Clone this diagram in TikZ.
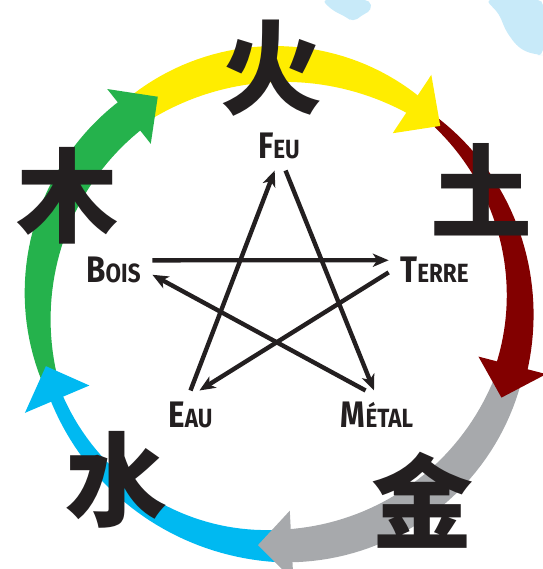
\documentclass[tikz,border=0pt]{standalone}
\usepackage{fontspec}
\usetikzlibrary{arrows.meta}
\newfontfamily\elemfont[FakeStretch=0.85]{Fira Sans}
\newfontfamily\cjk{Noto Sans CJK SC}
\definecolor{feuyellow}{HTML}{FFED00}
\definecolor{terrered}{HTML}{820000}
\definecolor{metalgray}{HTML}{A7A9AC}
\definecolor{eaublue}{HTML}{00B9F1}
\definecolor{boisgreen}{HTML}{25B24C}
\definecolor{inkblack}{HTML}{231F20}
\definecolor{skyblue}{HTML}{C8EAF9}

% radius of the cycle, in px
\newcommand{\rc}{241}
% tapered band: colour, start angle, end angle, widths at start/middle/end
\newcommand{\ringbody}[6]{%
  \fill[#1] plot[domain=0:1, samples=40, variable=\s]
    ({#2+(#3-(#2))*\s}:{\rc+0.5*(#4*(1-\s)*(1-2*\s)+4*#5*\s*(1-\s)+#6*\s*(2*\s-1))})
    -- plot[domain=1:0, samples=40, variable=\s]
    ({#2+(#3-(#2))*\s}:{\rc-0.5*(#4*(1-\s)*(1-2*\s)+4*#5*\s*(1-\s)+#6*\s*(2*\s-1))})
    -- cycle;}
% arrow head: colour, base angle, tip angle
\newcommand{\ringhead}[3]{%
  \fill[#1] (#2:{\rc+35}) -- (#3:\rc) -- (#2:{\rc-35}) -- cycle;}
\newcommand{\elemname}[2]{{\fontsize{21}{21}\selectfont #1}{\fontsize{15}{15}\selectfont #2}}

\begin{document}
\begin{tikzpicture}[x=0.02cm, y=0.02cm,
  elem/.style={font=\elemfont\bfseries, text=inkblack, inner sep=6.5pt, text height=14.5pt, text depth=0pt},
  hanzi/.style={font=\cjk\bfseries\fontsize{58}{58}\selectfont, text=inkblack, inner sep=0pt},
  flow/.style={draw=inkblack, line width=2.5pt, -{Stealth[length=9pt, width=7.5pt, inset=2.5pt]}},
]
  \useasboundingbox (-279,-264) rectangle (264,305);

  % water stains at the top
  \fill[skyblue, rounded corners=3pt] (43,305) -- (53,295) -- (67,288) -- (74,283) -- (85,291) -- (93,295) -- (91,305) -- cycle;
  \fill[skyblue, rounded corners=3pt] (207,305) -- (220,291) -- (227,274) -- (237,260) -- (247,253) -- (261,250) -- (264,250) -- (264,305) -- cycle;

  % generating cycle
  \ringbody{feuyellow}{126.5}{55.5}{30}{36}{20}
  \ringbody{terrered}{54.5}{-15.5}{7}{20}{32}
  \ringbody{metalgray}{-16.5}{-88}{26}{36}{33}
  \ringbody{eaublue}{-89}{-158}{33}{20}{13}
  \ringbody{boisgreen}{-159}{-232.5}{14}{32}{36}
  \ringhead{feuyellow}{56.5}{48}
  \ringhead{terrered}{-14.5}{-22.6}
  \ringhead{metalgray}{-87}{-95}
  \ringhead{eaublue}{-157}{-165.3}
  \ringhead{boisgreen}{-231.5}{-239.8}

  \node[hanzi] (huo)  at (-8,237)    {火};
  \node[hanzi] (tu)   at (202,115)   {土};
  \node[hanzi] (jin)  at (143,-195)  {金};
  \node[hanzi] (shui) at (-163,-175) {水};
  \node[hanzi] (mu)   at (-212,109)  {木};

  \node[elem] (feu)   at (0,159)      {\elemname{F}{EU}};
  \node[elem] (terre) at (155.5,35)   {\elemname{T}{ERRE}};
  \node[elem] (metal) at (98,-110)    {\elemname{M}{ÉTAL}};
  \node[elem] (eau)   at (-88.5,-110) {\elemname{E}{AU}};
  \node[elem] (bois)  at (-165.5,35)  {\elemname{B}{OIS}};

  % controlling star
  \draw[flow] (eau.north) -- (feu.-100);
  \draw[flow] (feu.-75) -- (metal.97);
  \draw[flow] (metal.115) -- (bois.-7);
  \draw[flow] (bois.14) -- (terre.168);
  \draw[flow] (terre.183) -- (eau.70);
\end{tikzpicture}
\end{document}
